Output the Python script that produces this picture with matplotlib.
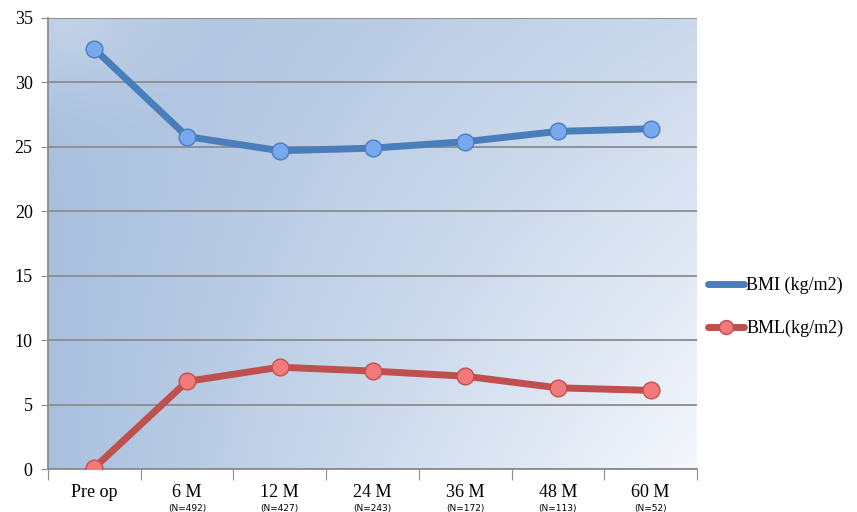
import numpy as np
import matplotlib
matplotlib.use("Agg")
import matplotlib.pyplot as plt
from matplotlib.lines import Line2D

# data
categories = ["Pre op", "6 M", "12 M", "24 M", "36 M", "48 M", "60 M"]
n_labels = ["", "(N=492)", "(N=427)", "(N=243)", "(N=172)", "(N=113)", "(N=52)"]
bmi = [32.6, 25.8, 24.7, 24.9, 25.4, 26.2, 26.4]
bml = [0.1, 6.8, 7.9, 7.6, 7.2, 6.3, 6.1]

plt.rcParams['font.family'] = ['Liberation Serif', 'DejaVu Serif']

fig = plt.figure(figsize=(8.57, 5.12), dpi=100)
ax = fig.add_axes([48/857, 43/512, 649/857, 451/512])

#
# gradient background for the plot area
#
gx, gy = np.meshgrid(np.linspace(0, 1, 300), np.linspace(1, 0, 200))
t = 0.45*gx + 0.55*gx*(1-gy)
t = t + 0.3*np.exp(-((gx)**2 + (1-gy)**2)/0.03)
t = np.clip(t, 0, 1)
dark = np.array([0.66, 0.75, 0.87])
light = np.array([0.96, 0.97, 0.99])
img = dark[None, None, :]*(1-t[..., None]) + light[None, None, :]*t[..., None]
ax.imshow(img, extent=[0, 1, 0, 1], transform=ax.transAxes, aspect='auto', zorder=0)

x = np.arange(len(categories))
ax.plot(x, bmi, color='#4a7ebb', lw=5, marker='o', ms=12, mfc='#78a8ee',
        mec='#4a7ebb', mew=1, zorder=3, solid_capstyle='round')
ax.plot(x, bml, color='#c0504d', lw=5, marker='o', ms=12, mfc='#f27a7a',
        mec='#c0504d', mew=1, zorder=3, solid_capstyle='round')

ax.set_xlim(-0.5, len(categories)-0.5)
ax.set_ylim(0, 35)
ax.set_yticks(np.arange(0, 36, 5))
ax.yaxis.grid(True, color='#8c8c8c', lw=1.3)
ax.set_axisbelow(False)
for gl in ax.get_ygridlines():
    gl.set_zorder(1)

ax.set_xticks(np.arange(-0.5, len(categories), 1))
ax.set_xticklabels([])
ax.set_xticks(x, minor=True)
ax.set_xticklabels(categories, minor=True, fontsize=13)
ax.tick_params(axis='x', which='major', length=8, color='#8c8c8c', direction='out')
ax.tick_params(axis='x', which='minor', length=0, pad=11)
ax.tick_params(axis='y', length=5, color='#8c8c8c', labelsize=13, pad=6)

for i, lab in enumerate(n_labels):
    ax.text(i, -0.078, lab, transform=ax.get_xaxis_transform(), ha='center',
            va='top', fontsize=6.5, family='DejaVu Sans')

for s in ['top', 'right']:
    ax.spines[s].set_visible(False)
for s in ['left', 'bottom']:
    ax.spines[s].set_color('#8c8c8c')
    ax.spines[s].set_linewidth(1.3)

handles = [Line2D([], [], color='#4a7ebb', lw=5, solid_capstyle='round'),
           Line2D([], [], color='#c0504d', lw=5, marker='o', ms=10, mfc='#f27a7a',
                  mec='#c0504d', solid_capstyle='round')]
fig.legend(handles, ['BMI (kg/m2)', 'BML(kg/m2)'], loc='center left',
           bbox_to_anchor=(692/857, 1-307/512), frameon=False, fontsize=13,
           handlelength=2.0, handletextpad=0.1, labelspacing=1.4)

fig.savefig('out.png', dpi=100)
